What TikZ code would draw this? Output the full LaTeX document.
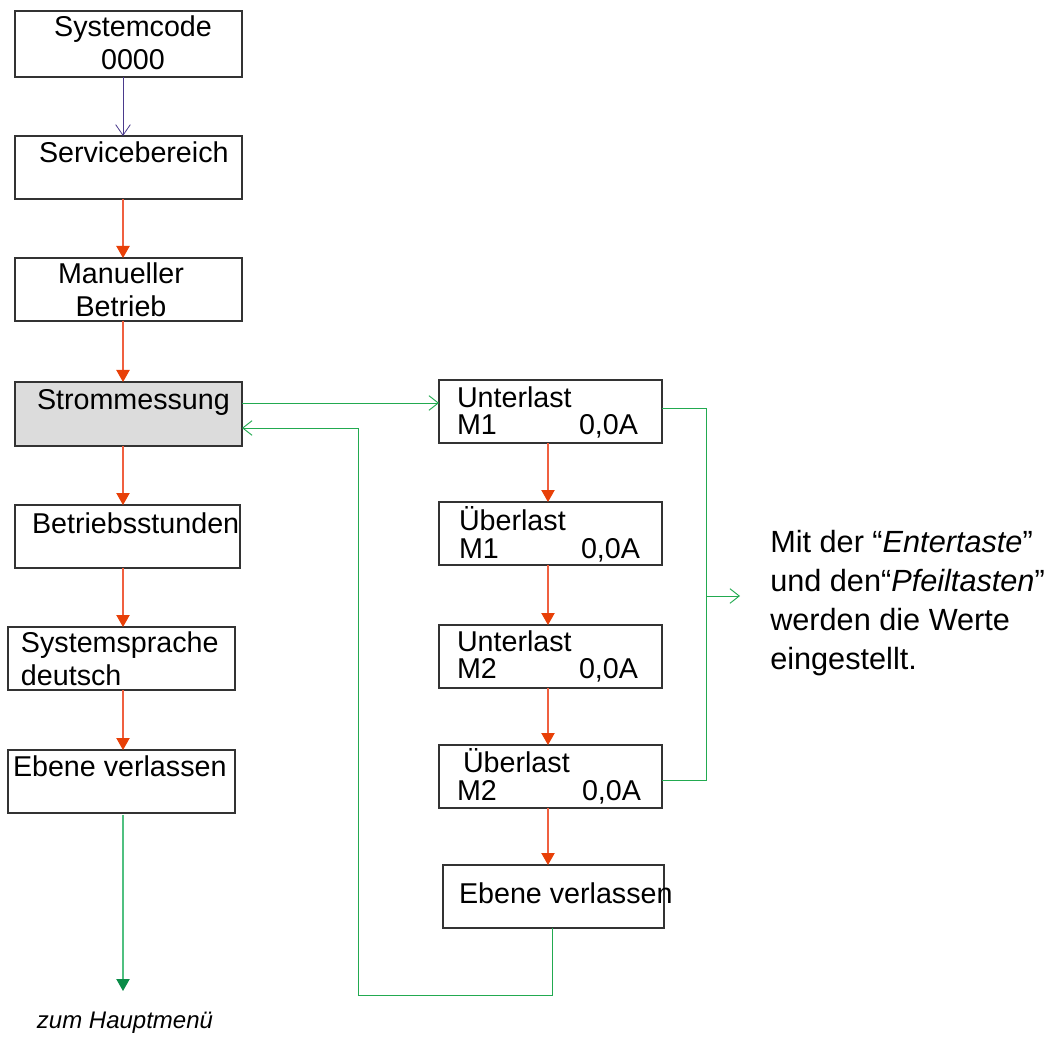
\documentclass[tikz,border=0pt]{standalone}
\usepackage{fontspec}
\setmainfont{Liberation Sans}
\usetikzlibrary{arrows.meta}
\definecolor{boxline}{HTML}{333333}
\definecolor{boxgray}{HTML}{DCDCDC}
\definecolor{redln}{HTML}{F06040}
\definecolor{redhead}{HTML}{E84008}
\definecolor{greenln}{HTML}{22AA50}
\definecolor{greenln2}{HTML}{50C080}
\definecolor{greenhead}{HTML}{0A8C48}
\definecolor{purpleln}{HTML}{4A3A8C}
\begin{document}
\begin{tikzpicture}[x=0.75pt,y=-0.75pt,
  box/.style={draw=boxline,line width=0.9pt,inner sep=0pt,outer sep=0pt,anchor=north west},
  txt/.style={inner sep=0pt,outer sep=0pt,font=\fontsize{21.5}{24.75}\selectfont},
  redarrow/.style={draw=redln,line width=0.8pt,-{Triangle[width=10pt,length=9pt,color=redhead]}},
  greenopen/.style={draw=greenln,line width=0.7pt,-{Straight Barb[width=11pt,length=7pt]}},
  greenplain/.style={draw=greenln,line width=0.7pt},
  greendown/.style={draw=greenln2,line width=0.8pt,-{Triangle[width=10pt,length=9pt,color=greenhead]}},
  purplearrow/.style={draw=purpleln,line width=0.6pt,-{Straight Barb[width=11pt,length=8pt]}}
]
\useasboundingbox (0,0) rectangle (1060,1037);
% left column boxes
\node[box,minimum width={227*0.75pt},minimum height={66*0.75pt}] (sys) at (15,11) {};
\node[box,minimum width={227*0.75pt},minimum height={63*0.75pt}] (svc) at (15,136) {};
\node[box,minimum width={227*0.75pt},minimum height={63*0.75pt}] (man) at (15,258) {};
\node[box,fill=boxgray,minimum width={227*0.75pt},minimum height={64*0.75pt}] (strom) at (15,382) {};
\node[box,minimum width={225*0.75pt},minimum height={63*0.75pt}] (betr) at (15,505) {};
\node[box,minimum width={227*0.75pt},minimum height={63*0.75pt}] (spr) at (8,627) {};
\node[box,minimum width={227*0.75pt},minimum height={63*0.75pt}] (ebL) at (8,750) {};
% right column boxes
\node[box,minimum width={223*0.75pt},minimum height={63*0.75pt}] (uM1) at (439,380) {};
\node[box,minimum width={223*0.75pt},minimum height={63*0.75pt}] (oM1) at (439,502) {};
\node[box,minimum width={223*0.75pt},minimum height={63*0.75pt}] (uM2) at (439,625) {};
\node[box,minimum width={223*0.75pt},minimum height={63*0.75pt}] (oM2) at (439,745) {};
\node[box,minimum width={221*0.75pt},minimum height={63*0.75pt}] (ebR) at (443,865) {};
% texts left (base anchor = last line)
\node[txt,align=center,anchor=base] (tsys) at (133,70) {Systemcode\\0000};
\node[txt,anchor=base west] (tsvc) at (39,163) {Servicebereich};
\node[txt,align=center,anchor=base] (tman) at (121,317) {Manueller\\Betrieb};
\node[txt,anchor=base west] (tstrom) at (37,410) {Strommessung};
\node[txt,anchor=base west] (tbetr) at (32,533) {Betriebsstunden};
\node[txt,align=left,anchor=base west] (tspr) at (21,685) {Systemsprache\\deutsch};
\node[txt,anchor=base west] (tebL) at (13,776) {Ebene verlassen};
% texts right
\node[txt,anchor=base west] (tuM1a) at (457,407) {Unterlast};
\node[txt,anchor=base west] (tuM1b) at (457,435) {M1};
\node[txt,anchor=base east] (tuM1c) at (638,435) {0,0A};
\node[txt,anchor=base west] (toM1a) at (459,530) {Überlast};
\node[txt,anchor=base west] (toM1b) at (459,558) {M1};
\node[txt,anchor=base east] (toM1c) at (640,558) {0,0A};
\node[txt,anchor=base west] (tuM2a) at (457,651) {Unterlast};
\node[txt,anchor=base west] (tuM2b) at (457,678) {M2};
\node[txt,anchor=base east] (tuM2c) at (638,678) {0,0A};
\node[txt,anchor=base west] (toM2a) at (463,772) {Überlast};
\node[txt,anchor=base west] (toM2b) at (457,800) {M2};
\node[txt,anchor=base east] (toM2c) at (641,800) {0,0A};
\node[txt,anchor=base west] (tebR) at (459,903) {Ebene verlassen};
% note
\node[inner sep=0pt,align=left,anchor=base west,font=\fontsize{23}{29.25}\selectfont] (note) at (770,669)
  {Mit der “\textit{Entertaste}”\\und den“\textit{Pfeiltasten}”\\werden die Werte\\eingestellt.};
\node[inner sep=0pt,anchor=base,font=\fontsize{18}{20}\selectfont\itshape] (haupt) at (125,1028) {zum Hauptmenü};
% column coordinates
\coordinate (cL) at (123,0);
\coordinate (cR) at (548,0);
% left arrows
\draw[purplearrow] (sys.south -| cL) -- (svc.north -| cL);
\draw[redarrow] (svc.south -| cL) -- (man.north -| cL);
\draw[redarrow] (man.south -| cL) -- (strom.north -| cL);
\draw[redarrow] (strom.south -| cL) -- (betr.north -| cL);
\draw[redarrow] (betr.south -| cL) -- (spr.north -| cL);
\draw[redarrow] (spr.south -| cL) -- (ebL.north -| cL);
\coordinate (hauptend) at (123,991);
\draw[greendown] ([yshift=-2*0.75pt]ebL.south -| cL) -- (hauptend);
% right arrows
\draw[redarrow] (uM1.south -| cR) -- (oM1.north -| cR);
\draw[redarrow] (oM1.south -| cR) -- (uM2.north -| cR);
\draw[redarrow] (uM2.south -| cR) -- (oM2.north -| cR);
\draw[redarrow] (oM2.south -| cR) -- (ebR.north -| cR);
% strommessung -> unterlast
\coordinate (sy) at (0,403);
\draw[greenopen] (strom.east |- sy) -- (uM1.west |- sy);
% return loop
\coordinate (r1) at (552,995);
\coordinate (r2) at (358,428);
\draw[greenopen] (ebR.south -| r1) -- (r1) -- (r1 -| r2) -- (r2) -- (r2 -| strom.east);
% bracket
\coordinate (b1) at (706,408);
\coordinate (b2) at (706,780);
\coordinate (bm) at (706,596);
\coordinate (bend) at (740,596);
\draw[greenplain] (b1 -| uM1.east) -- (b1) -- (b2) -- (b2 -| oM2.east);
\draw[greenopen] (bm) -- (bend);
\end{tikzpicture}
\end{document}
